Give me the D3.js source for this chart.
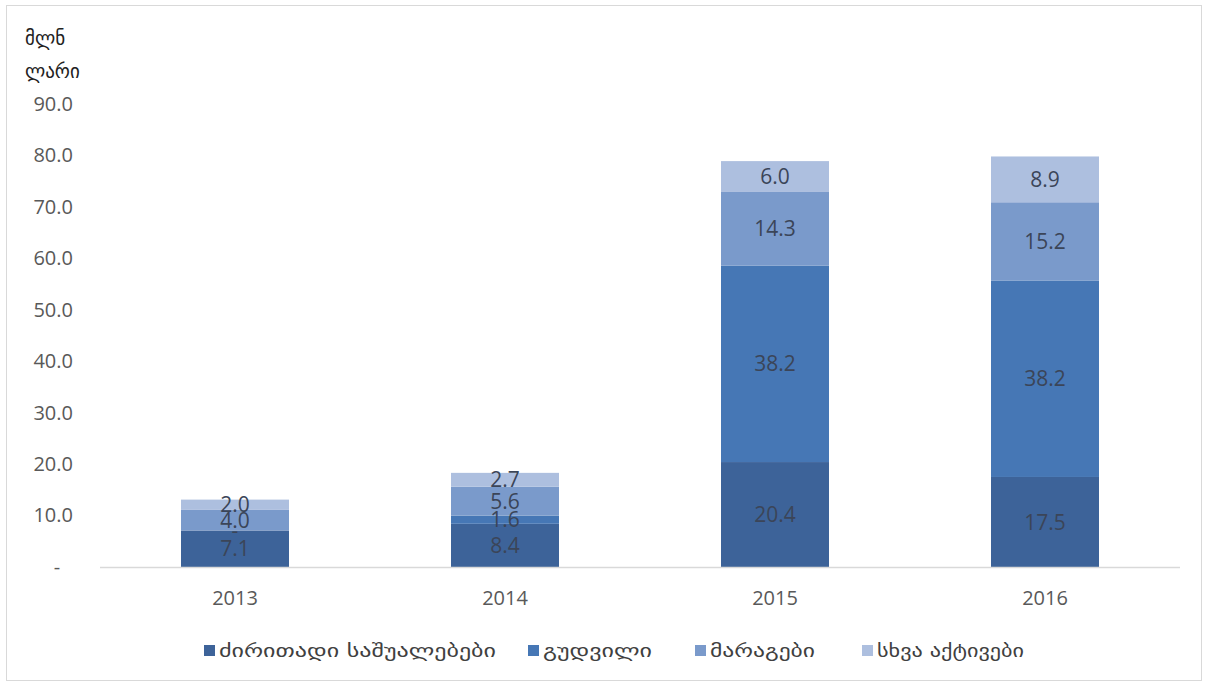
<!DOCTYPE html>
<html>
<head>
<meta charset="utf-8">
<script src="https://cdn.jsdelivr.net/npm/d3@7"></script>
<style>
  html, body { margin: 0; padding: 0; background: #fff; }
  svg { display: block; }
</style>
</head>
<body>
<svg id="chart" width="1208" height="684"></svg>
<script>
// Asset structure by year, million GEL
const years = ["2013", "2014", "2015", "2016"];
const seriesNames = ["ძირითადი საშუალებები", "გუდვილი", "მარაგები", "სხვა აქტივები"];
const fixedAssets = [7.1, 8.4, 20.4, 17.5];
const goodwill    = [0, 1.6, 38.2, 38.2];
const inventories = [4.0, 5.6, 14.3, 15.2];
const otherAssets = [2.0, 2.7, 6.0, 8.9];
const yTicks = [0, 10, 20, 30, 40, 50, 60, 70, 80, 90];
const colors = ["#3d6399", "#4677b5", "#7a9acb", "#adbfdf"];

const rows = years.map((y, i) => ({
  year: y,
  s0: fixedAssets[i], s1: goodwill[i], s2: inventories[i], s3: otherAssets[i]
}));
const keys = ["s0", "s1", "s2", "s3"];
const stacked = d3.stack().keys(keys)(rows);

const svg = d3.select("#chart");
const W = 1208, H = 684;
const numFont = "'Open Sans', 'Noto Sans', sans-serif";

// outer frame
svg.append("rect")
  .attr("x", 6.5).attr("y", 5.5).attr("width", W - 13).attr("height", H - 9)
  .attr("fill", "#fff").attr("stroke", "#d9d9d9").attr("stroke-width", 1);

const plot = { left: 100, right: 1180, top: 104, bottom: 567 };

const x = d3.scaleBand().domain(years).range([plot.left, plot.right]).paddingInner(0.6).paddingOuter(0.3);
const y = d3.scaleLinear().domain([0, 90]).range([plot.bottom, plot.top]);

// y axis labels (accounting style: zero shown as a dash)
const yAxis = d3.axisLeft(y).tickValues(yTicks)
  .tickFormat(d => d === 0 ? "-" : d3.format(".1f")(d))
  .tickSize(0).tickPadding(0);
const gy = svg.append("g").attr("transform", "translate(73,0)").call(yAxis);
gy.select(".domain").remove();
gy.selectAll("text")
  .attr("font-family", numFont)
  .attr("font-size", 20).attr("fill", "#595959")
  .attr("text-anchor", d => d === 0 ? "middle" : "end")
  .attr("dx", d => d === 0 ? "-16" : "0");

// bars
const layers = svg.append("g").selectAll("g").data(stacked).join("g")
  .attr("fill", (d, i) => colors[i]);
layers.selectAll("rect").data(d => d).join("rect")
  .attr("x", d => x(d.data.year))
  .attr("width", x.bandwidth())
  .attr("y", d => y(d[1]))
  .attr("height", d => y(d[0]) - y(d[1]));

// baseline
svg.append("line")
  .attr("x1", plot.left).attr("x2", plot.right)
  .attr("y1", plot.bottom + 0.5).attr("y2", plot.bottom + 0.5)
  .attr("stroke", "#d9d9d9").attr("stroke-width", 1.5);

// x axis labels
const xAxis = d3.axisBottom(x).tickSize(0).tickPadding(0);
const gx = svg.append("g").attr("transform", `translate(0,${plot.bottom + 38})`).call(xAxis);
gx.select(".domain").remove();
gx.selectAll("text")
  .attr("font-family", numFont)
  .attr("font-size", 20).attr("fill", "#595959").attr("dy", 0);

// value labels
stacked.forEach((layer) => {
  svg.append("g").selectAll("text").data(layer).join("text")
    .attr("x", d => x(d.data.year) + x.bandwidth() / 2)
    .attr("y", d => y((d[0] + d[1]) / 2))
    .attr("dy", "0.36em")
    .attr("text-anchor", "middle")
    .attr("font-family", numFont)
    .attr("font-size", 21)
    .attr("fill", "#3b4558")
    .text(d => (d[1] - d[0]) === 0 ? "-" : d3.format(".1f")(d[1] - d[0]));
});

// unit label
const unit = svg.append("text")
  .attr("font-family", "'DejaVu Sans', sans-serif")
  .attr("font-size", 19).attr("fill", "#222");
unit.append("tspan").attr("x", 25).attr("y", 45).text("მლნ");
unit.append("tspan").attr("x", 25).attr("y", 78).text("ლარი");

// legend
const legendX = [204, 528, 695, 862];
const legendW = [277, 109, 105, 147];
const legend = svg.append("g").selectAll("g").data(seriesNames).join("g")
  .attr("transform", (d, i) => `translate(${legendX[i]},651)`);
legend.append("rect")
  .attr("x", 0).attr("y", -6).attr("width", 11).attr("height", 11)
  .attr("fill", (d, i) => colors[i]);
legend.append("text")
  .attr("x", 15).attr("y", 0).attr("dy", "0.35em")
  .attr("font-family", "'DejaVu Sans', sans-serif")
  .attr("font-size", 18).attr("fill", "#404040")
  .attr("textLength", (d, i) => legendW[i])
  .attr("lengthAdjust", "spacingAndGlyphs")
  .text(d => d);
</script>
</body>
</html>
